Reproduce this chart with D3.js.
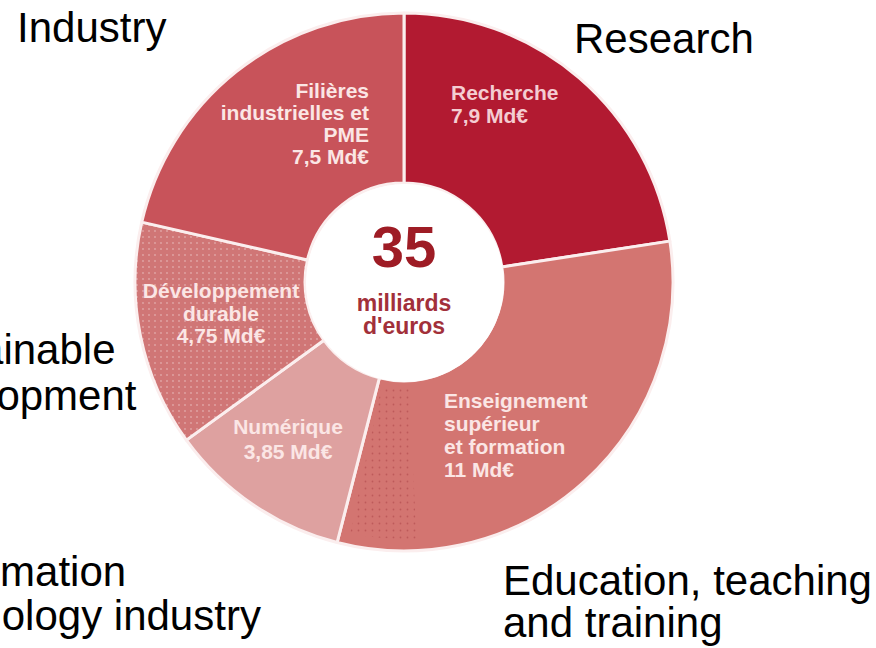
<!DOCTYPE html>
<html>
<head>
<meta charset="utf-8">
<script src="https://cdn.jsdelivr.net/npm/d3@7"></script>
<style>
    body { margin: 0; background: #fff; }
    #main svg { display: block; overflow: hidden; }
</style>
</head>
<body>
<div id="main"></div>
<script>
const ctx = {
    w: 876,
    h: 648,
    cx: 404,
    cy: 282,
    rOuter: 269,
    rInner: 99
};

// montants du plan, en milliards d'euros (ordre horaire depuis midi)
const categories = ["Recherche", "Enseignement supérieur et formation", "Numérique", "Développement durable", "Filières industrielles et PME"];
const amounts = [7.9, 11, 3.85, 4.75, 7.5];
const sliceLabels = [
    ["Recherche", "7,9 Md€"],
    ["Enseignement", "supérieur", "et formation", "11 Md€"],
    ["Numérique", "3,85 Md€"],
    ["Développement", "durable", "4,75 Md€"],
    ["Filières", "industrielles et", "PME", "7,5 Md€"]
];
const englishLabels = [
    ["Research"],
    ["Education, teaching", "and training"],
    ["Information", "technology industry"],
    ["Sustainable", "development"],
    ["Industry"]
];
const totalLabel = ["35", "milliards", "d'euros"];

const sliceColors = ["#b21a31", "#d37571", "#dea1a0", "#d07676", "#c8535a"];

// placement des textes (relatif au centre pour l'intérieur, absolu pour l'extérieur)
const insideLayout = [
    { dx: 47, dy: -182, anchor: "start", lh: 23 },
    { dx: 40, dy: 126, anchor: "start", lh: 23 },
    { dx: -116, dy: 152, anchor: "middle", lh: 25 },
    { dx: -183, dy: 16, anchor: "middle", lh: 22.5 },
    { dx: -35, dy: -184, anchor: "end", lh: 22 }
];
const outsideLayout = [
    { x: [574], y: 53, lh: 0 },
    { x: [503, 503], y: 595, lh: 42 },
    { x: [-84, -101], y: 586, lh: 44 },
    { x: [-104, -104], y: 364, lh: 46 },
    { x: [17], y: 42, lh: 0 }
];

//==============================================================================================
function drawPie(svg) {
    const data = categories.map((c, i) => ({ name: c, value: amounts[i], i: i }));
    console.log(data);

    const pie = d3.pie()
        .sort(null)
        .value(d => d.value);

    const arc = d3.arc()
        .innerRadius(ctx.rInner)
        .outerRadius(ctx.rOuter);

    const defs = svg.append("defs");
    defs.append("pattern")
        .attr("id", "dotsLight")
        .attr("width", 6)
        .attr("height", 6)
        .attr("patternUnits", "userSpaceOnUse")
      .append("circle")
        .attr("cx", 3).attr("cy", 3).attr("r", 0.9)
        .attr("fill", "rgba(255,255,255,0.35)");
    defs.append("pattern")
        .attr("id", "dotsDark")
        .attr("width", 7)
        .attr("height", 7)
        .attr("patternUnits", "userSpaceOnUse")
      .append("circle")
        .attr("cx", 3.5).attr("cy", 3.5).attr("r", 0.9)
        .attr("fill", "rgba(150,40,45,0.35)");

    const g = svg.append("g")
        .attr("transform", `translate(${ctx.cx},${ctx.cy})`);

    const arcs = pie(data);

    g.selectAll("path.slice")
        .data(arcs)
        .enter().append("path")
        .attr("class", "slice")
        .attr("d", arc)
        .attr("fill", d => sliceColors[d.data.i])
        .attr("stroke", "#fbeeee")
        .attr("stroke-width", 3)
        .attr("stroke-linejoin", "round");

    // textures pointillées
    g.append("path")
        .attr("d", arc(arcs[3]))
        .attr("fill", "url(#dotsLight)");
    g.append("path")
        .attr("d", d3.arc()
            .innerRadius(ctx.rInner + 8)
            .outerRadius(ctx.rOuter - 12)
            .startAngle(arcs[1].endAngle - 0.3)
            .endAngle(arcs[1].endAngle - 0.04)())
        .attr("fill", "url(#dotsDark)");

    // libellés dans les parts
    arcs.forEach((a, i) => {
        const L = insideLayout[i];
        const t = g.append("text")
            .attr("text-anchor", L.anchor)
            .style("font-family", "'Liberation Sans', Arial, sans-serif")
            .style("font-weight", "bold")
            .style("font-size", "21px")
            .attr("fill", i === 0 ? "#f4cdd2" : "#fbe6e5");
        sliceLabels[i].forEach((line, k) => {
            t.append("tspan")
                .attr("x", L.dx)
                .attr("y", L.dy + k * L.lh)
                .text(line);
        });
    });

    // centre
    g.append("circle")
        .attr("cx", 1).attr("cy", 1)
        .attr("r", ctx.rInner)
        .attr("fill", "#fff");

    g.append("text")
        .attr("x", 0).attr("y", -15)
        .attr("text-anchor", "middle")
        .style("font-family", "'Liberation Sans', Arial, sans-serif")
        .style("font-weight", "bold")
        .style("font-size", "58px")
        .attr("fill", "#9e1c25")
        .text(totalLabel[0]);

    [totalLabel[1], totalLabel[2]].forEach((line, k) => {
        g.append("text")
            .attr("x", 0).attr("y", 29 + k * 23)
            .attr("text-anchor", "middle")
            .style("font-family", "'Liberation Sans', Arial, sans-serif")
            .style("font-weight", "bold")
            .style("font-size", "23px")
            .attr("fill", "#a2303a")
            .text(line);
    });
}

function drawEnglishLabels(svg) {
    englishLabels.forEach((lines, i) => {
        const L = outsideLayout[i];
        const t = svg.append("text")
            .style("font-family", "'Liberation Sans', Arial, sans-serif")
            .style("font-size", "42px")
            .attr("fill", "#000");
        lines.forEach((line, k) => {
            t.append("tspan")
                .attr("x", L.x[k])
                .attr("y", L.y + k * L.lh)
                .text(line);
        });
    });
}

function createViz() {
    console.log("Using D3 v" + d3.version);
    const svgEl = d3.select("#main").append("svg")
        .attr("width", ctx.w)
        .attr("height", ctx.h);
    svgEl.append("rect")
        .attr("width", ctx.w).attr("height", ctx.h)
        .attr("fill", "#fff");
    drawPie(svgEl);
    drawEnglishLabels(svgEl);
}

createViz();
</script>
</body>
</html>
